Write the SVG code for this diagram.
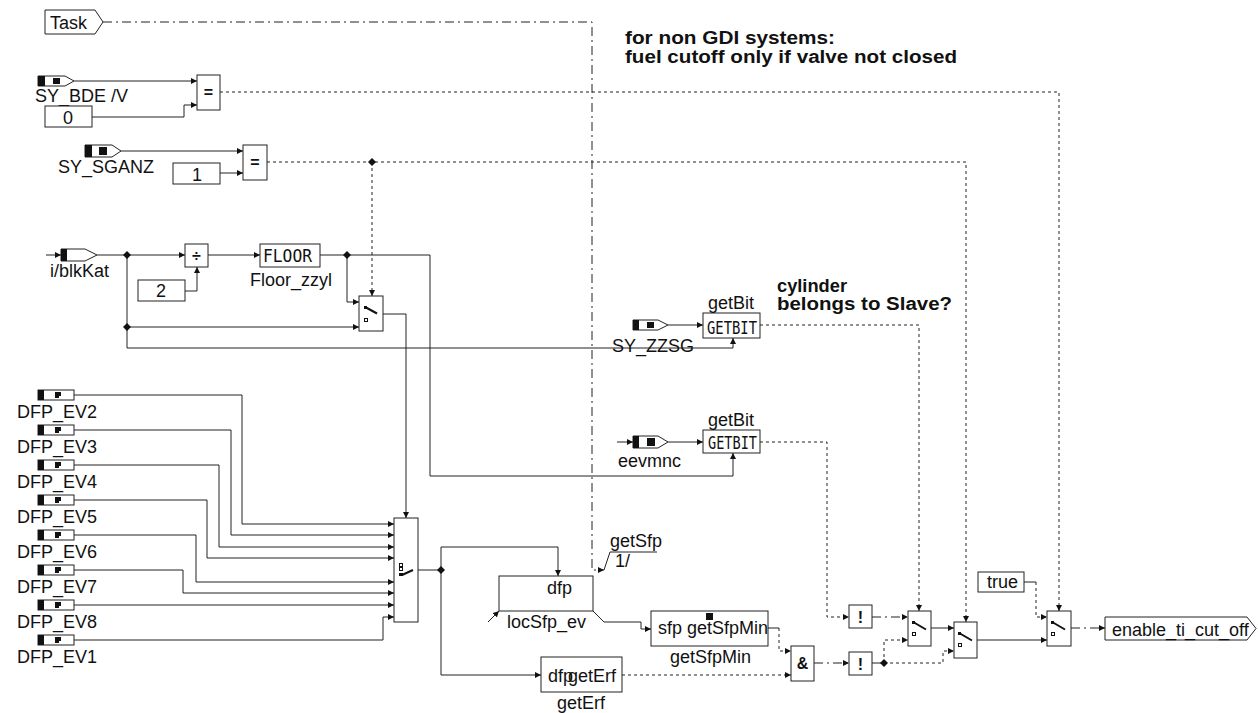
<svg xmlns="http://www.w3.org/2000/svg" width="1258" height="713" viewBox="0 0 1258 713">
<defs>
<marker id="a" markerUnits="userSpaceOnUse" markerWidth="7" markerHeight="7" refX="6" refY="3.5" orient="auto"><path d="M0,0.5 L6,3.5 L0,6.5 Z" fill="#111"/></marker>
<style>
.b{fill:#fff;stroke:#222;stroke-width:1}
.s{fill:none;stroke:#222;stroke-width:1}
.d{fill:none;stroke:#222;stroke-width:1;stroke-dasharray:3 3}
.dd{fill:none;stroke:#222;stroke-width:1;stroke-dasharray:9 4 2 4}
.ar{marker-end:url(#a)}
text{font-family:"Liberation Sans",Arial,sans-serif;font-size:18px;fill:#111}
.bold{font-weight:bold}
.mono{font-family:"DejaVu Sans Mono","Liberation Mono",monospace;font-size:18px}
.sym{font-weight:bold;font-size:16px;text-anchor:middle}
.k{fill:#111}
.j{fill:#111}
</style>
</defs>
<rect width="1258" height="713" fill="#fff"/>

<g id="connectors">
<path class="dd ar" d="M103,22 H592 V570 H604"/>
<path class="s" d="M604,570 L610,552 H657"/>
<path class="s ar" d="M74,81 H197"/>
<path class="s ar" d="M92,117 H184 V105 H197"/>
<path class="d ar" d="M220,92 H1059 V611"/>
<path class="s ar" d="M121,151 H243"/>
<path class="s ar" d="M220,173 H243"/>
<path class="d ar" d="M267,162 H966 V622"/>
<path class="d ar" d="M372,162 V296"/>
<path class="s ar" d="M46,255 H61"/>
<path class="s ar" d="M97,255 H185"/>
<path class="s ar" d="M127,255 V348 H733 V338"/>
<path class="s ar" d="M127,327 H359"/>
<path class="s ar" d="M185,291 H197 V267"/>
<path class="s ar" d="M208,255 H260"/>
<path class="s ar" d="M320,255 H430 V476 H733 V453"/>
<path class="s ar" d="M347,255 V302 H359"/>
<path class="s ar" d="M383,314 H406 V518"/>
<path class="s ar" d="M74,395 H242 V524 H394"/>
<path class="s ar" d="M74,430 H231 V535 H394"/>
<path class="s ar" d="M74,465 H219 V547 H394"/>
<path class="s ar" d="M74,500 H207 V558 H394"/>
<path class="s ar" d="M74,535 H196 V582 H394"/>
<path class="s ar" d="M74,570 H183 V593 H394"/>
<path class="s ar" d="M74,605 H394"/>
<path class="s ar" d="M74,640 H383 V617 H394"/>
<path class="s" d="M418,570 H441"/>
<path class="s ar" d="M441,570 V547 H558 V576"/>
<path class="s ar" d="M441,570 V675 H541"/>
<path class="s ar" d="M593,611 L604,622 H641 V629 H651"/>
<path class="s ar" d="M488,622 L499,611"/>
<path class="s" d="M768,628 H779"/>
<path class="d ar" d="M779,628 V651 H791"/>
<path class="d ar" d="M622,675 H791"/>
<path class="dd ar" d="M814,663 H849"/>
<path class="s ar" d="M668,325 H703"/>
<path class="s ar" d="M617,442 H633"/>
<path class="s ar" d="M668,442 H703"/>
<path class="d ar" d="M760,325 H919 V611"/>
<path class="d ar" d="M760,442 H827 V617 H849"/>
<path class="dd ar" d="M872,617 H908"/>
<path class="dd" d="M872,663 H884"/>
<path class="d ar" d="M884,663 V640 H908"/>
<path class="d ar" d="M884,663 H943 V651 H954"/>
<path class="s ar" d="M931,628 H954"/>
<path class="s ar" d="M977,640 H1047"/>
<path class="s" d="M1024,582 H1036"/>
<path class="d ar" d="M1036,582 V617 H1047"/>
<path class="dd ar" d="M1071,628 H1105"/>
<path class="j" d="M127,251 L131,255 L127,259 L123,255 Z"/>
<path class="j" d="M127,323 L131,327 L127,331 L123,327 Z"/>
<path class="j" d="M347,251 L351,255 L347,259 L343,255 Z"/>
<path class="j" d="M372,158 L376,162 L372,166 L368,162 Z"/>
<path class="j" d="M441,566 L445,570 L441,574 L437,570 Z"/>
<path class="j" d="M884,659 L888,663 L884,667 L880,663 Z"/>
</g>

<g id="Task">
<path class="b" d="M45,10 H95 L103,22 L95,34 H45 Z"/>
<text x="50" y="29">Task</text>
</g>

<g id="SY_BDE_V">
<path class="b" d="M38,76 H65 L74,81 L65,86 H38 Z"/>
<rect class="k" x="38" y="76" width="7" height="10"/>
<rect class="k" x="53" y="78" width="7" height="6"/>
<text x="35" y="102">SY_BDE /V</text>
</g>

<g id="const0">
<rect class="b" x="45" y="106" width="47" height="21"/>
<text x="68" y="124" text-anchor="middle">0</text>
</g>

<g id="eq1">
<rect class="b" x="197" y="75" width="23" height="35"/>
<text class="sym" x="208.5" y="98">=</text>
</g>

<g id="SY_SGANZ">
<path class="b" d="M85,145 H112 L121,151 L112,157 H85 Z"/>
<rect class="k" x="85" y="145" width="7" height="12"/>
<rect class="k" x="99" y="147" width="8" height="8"/>
<text x="58" y="173">SY_SGANZ</text>
</g>

<g id="const1">
<rect class="b" x="173" y="163" width="47" height="21"/>
<text x="197" y="181" text-anchor="middle">1</text>
</g>

<g id="eq2">
<rect class="b" x="243" y="145" width="24" height="35"/>
<text class="sym" x="255" y="168">=</text>
</g>

<g id="i_blkKat">
<path class="b" d="M61,249 H85 L97,255 L85,261 H61 Z"/>
<rect class="k" x="61" y="249" width="6" height="12"/>
<text x="50" y="277">i/blkKat</text>
</g>

<g id="div">
<rect class="b" x="185" y="244" width="23" height="23"/>
<text class="sym" x="196.5" y="261">÷</text>
</g>

<g id="const2">
<rect class="b" x="138" y="280" width="47" height="21"/>
<text x="161" y="297" text-anchor="middle">2</text>
</g>

<g id="Floor_zzyl">
<rect class="b" x="260" y="244" width="60" height="23"/>
<text class="mono" x="263" y="262" textLength="49" lengthAdjust="spacingAndGlyphs">FLOOR</text>
<text x="250" y="286">Floor_zzyl</text>
</g>

<g id="switch1">
<rect class="b" x="359" y="296" width="24" height="35"/>
<rect class="k" x="364" y="306" width="3" height="3"/>
<path d="M366,307.5 L377,313.5" stroke="#111" stroke-width="2"/>
<rect x="364.5" y="318.5" width="3" height="3" fill="none" stroke="#111"/>
</g>

<g id="mux">
<rect class="b" x="394" y="518" width="24" height="104"/>
<rect x="399.5" y="563.5" width="3" height="3" fill="none" stroke="#111"/>
<rect x="399.5" y="567.5" width="3" height="3" fill="none" stroke="#111"/>
<rect class="k" x="399" y="573" width="4" height="3"/>
<path d="M402,575 L413,570" stroke="#111" stroke-width="2"/>
</g>

<g id="DFP_EV2">
<rect class="b" x="38" y="390" width="36" height="10"/><rect class="k" x="38" y="390" width="6" height="10"/><rect class="k" x="55" y="392" width="6" height="6"/><rect fill="#fff" x="59" y="396" width="2" height="2"/>
<text x="17" y="418">DFP_EV2</text>
</g>
<g id="DFP_EV3">
<rect class="b" x="38" y="425" width="36" height="10"/><rect class="k" x="38" y="425" width="6" height="10"/><rect class="k" x="55" y="427" width="6" height="6"/><rect fill="#fff" x="59" y="431" width="2" height="2"/>
<text x="17" y="453">DFP_EV3</text>
</g>
<g id="DFP_EV4">
<rect class="b" x="38" y="460" width="36" height="10"/><rect class="k" x="38" y="460" width="6" height="10"/><rect class="k" x="55" y="462" width="6" height="6"/><rect fill="#fff" x="59" y="466" width="2" height="2"/>
<text x="17" y="488">DFP_EV4</text>
</g>
<g id="DFP_EV5">
<rect class="b" x="38" y="495" width="36" height="10"/><rect class="k" x="38" y="495" width="6" height="10"/><rect class="k" x="55" y="497" width="6" height="6"/><rect fill="#fff" x="59" y="501" width="2" height="2"/>
<text x="17" y="523">DFP_EV5</text>
</g>
<g id="DFP_EV6">
<rect class="b" x="38" y="530" width="36" height="10"/><rect class="k" x="38" y="530" width="6" height="10"/><rect class="k" x="55" y="532" width="6" height="6"/><rect fill="#fff" x="59" y="536" width="2" height="2"/>
<text x="17" y="558">DFP_EV6</text>
</g>
<g id="DFP_EV7">
<rect class="b" x="38" y="565" width="36" height="10"/><rect class="k" x="38" y="565" width="6" height="10"/><rect class="k" x="55" y="567" width="6" height="6"/><rect fill="#fff" x="59" y="571" width="2" height="2"/>
<text x="17" y="593">DFP_EV7</text>
</g>
<g id="DFP_EV8">
<rect class="b" x="38" y="600" width="36" height="10"/><rect class="k" x="38" y="600" width="6" height="10"/><rect class="k" x="55" y="602" width="6" height="6"/><rect fill="#fff" x="59" y="606" width="2" height="2"/>
<text x="17" y="628">DFP_EV8</text>
</g>
<g id="DFP_EV1">
<rect class="b" x="38" y="635" width="36" height="10"/><rect class="k" x="38" y="635" width="6" height="10"/><rect class="k" x="55" y="637" width="6" height="6"/><rect fill="#fff" x="59" y="641" width="2" height="2"/>
<text x="17" y="663">DFP_EV1</text>
</g>

<g id="SY_ZZSG">
<path class="b" d="M633,320 H658 L668,325 L658,330 H633 Z"/>
<rect class="k" x="633" y="320" width="6" height="10"/>
<rect class="k" x="647" y="322" width="7" height="6"/>
<text x="612" y="352">SY_ZZSG</text>
</g>

<g id="getBit1">
<rect class="b" x="703" y="313" width="57" height="25"/>
<text class="mono" x="707" y="334" textLength="50" lengthAdjust="spacingAndGlyphs">GETBIT</text>
<text x="708" y="309">getBit</text>
</g>

<g id="eevmnc">
<path class="b" d="M633,436 H658 L668,442 L658,448 H633 Z"/>
<rect class="k" x="633" y="436" width="6" height="12"/>
<rect class="k" x="647" y="438" width="8" height="8"/>
<text x="618" y="467">eevmnc</text>
</g>

<g id="getBit2">
<rect class="b" x="703" y="430" width="57" height="23"/>
<text class="mono" x="708" y="449" textLength="49" lengthAdjust="spacingAndGlyphs">GETBIT</text>
<text x="708" y="426">getBit</text>
</g>

<g id="locSfp_ev">
<rect class="b" x="499" y="576" width="94" height="35"/>
<text x="547" y="594">dfp</text>
<text x="507" y="628">locSfp_ev</text>
</g>

<g id="getSfp">
<text x="610" y="547">getSfp</text>
<text x="615" y="567">1/</text>
</g>

<g id="getSfpMin">
<rect class="b" x="651" y="611" width="117" height="35"/>
<rect class="k" x="706" y="613" width="7" height="7"/>
<text x="658" y="634">sfp getSfpMin</text>
<text x="670" y="663">getSfpMin</text>
</g>

<g id="getErf">
<rect class="b" x="541" y="657" width="81" height="35"/>
<text x="548" y="682">dfp</text>
<text x="568" y="682">getErf</text>
<text x="557" y="709">getErf</text>
</g>

<g id="and">
<rect class="b" x="791" y="646" width="23" height="35"/>
<text class="sym" x="802.5" y="669" font-size="15">&amp;</text>
</g>

<g id="not1">
<rect class="b" x="849" y="605" width="23" height="23"/>
<text class="sym" x="860.5" y="623" font-size="18">!</text>
</g>

<g id="not2">
<rect class="b" x="849" y="652" width="23" height="23"/>
<text class="sym" x="860.5" y="670" font-size="18">!</text>
</g>

<g id="switchA">
<rect class="b" x="908" y="611" width="23" height="35"/>
<rect class="k" x="912" y="621" width="3" height="3"/>
<path d="M914,622.5 L926,629.5" stroke="#111" stroke-width="2"/>
<rect x="912.5" y="632.5" width="3" height="3" fill="none" stroke="#111"/>
</g>

<g id="switchB">
<rect class="b" x="954" y="622" width="23" height="36"/>
<rect class="k" x="958" y="632" width="3" height="3"/>
<path d="M960,633.5 L972,640.5" stroke="#111" stroke-width="2"/>
<rect x="958.5" y="643.5" width="3" height="3" fill="none" stroke="#111"/>
</g>

<g id="true">
<rect class="b" x="978" y="572" width="46" height="20"/>
<text x="987" y="588">true</text>
</g>

<g id="switchC">
<rect class="b" x="1047" y="611" width="24" height="35"/>
<rect class="k" x="1051" y="621" width="3" height="3"/>
<path d="M1053,622.5 L1065,629.5" stroke="#111" stroke-width="2"/>
<rect x="1051.5" y="632.5" width="3" height="3" fill="none" stroke="#111"/>
</g>

<g id="enable_ti_cut_off">
<path class="b" d="M1105,617 H1247 L1256,628.5 L1247,640 H1105 Z"/>
<text x="1112" y="636">enable_ti_cut_off</text>
</g>

<g id="annotations">
<text class="bold" x="625" y="44" textLength="210" lengthAdjust="spacingAndGlyphs">for non GDI systems:</text>
<text class="bold" x="625" y="63" textLength="332" lengthAdjust="spacingAndGlyphs">fuel cutoff only if valve not closed</text>
<text class="bold" x="777" y="292" textLength="70" lengthAdjust="spacingAndGlyphs">cylinder</text>
<text class="bold" x="777" y="310" textLength="175" lengthAdjust="spacingAndGlyphs">belongs to Slave?</text>
</g>
</svg>
